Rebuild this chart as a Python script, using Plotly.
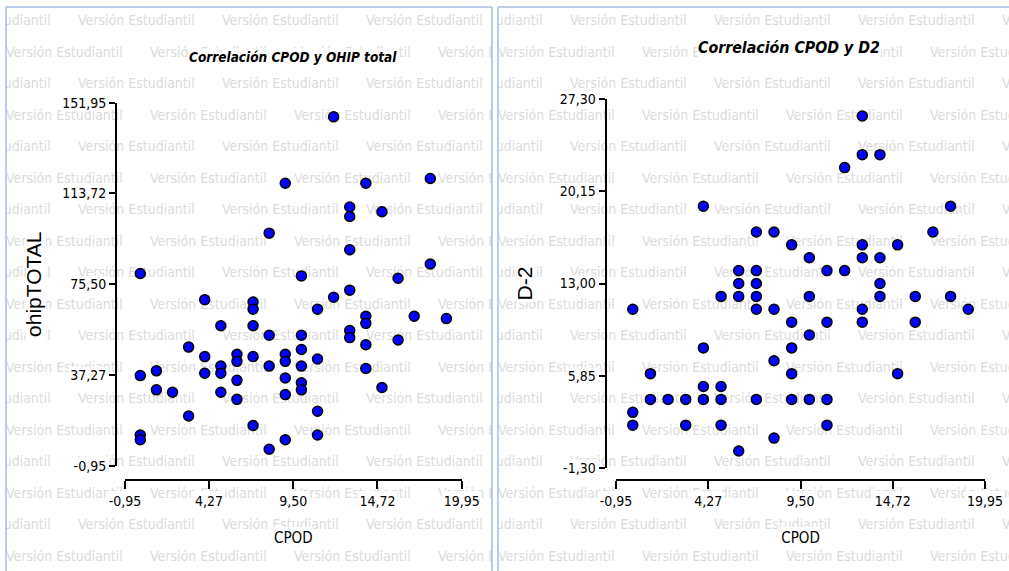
import plotly.graph_objects as go

# ---------------- data ----------------
cpod_left = [0, 0, 0, 0, 1, 1, 2, 3, 3, 4, 4, 4, 5, 5, 5, 5, 6, 6, 6, 6,
             7, 7, 7, 7, 7, 8, 8, 8, 8, 9, 9, 9, 9, 9, 9,
             10, 10, 10, 10, 10, 10, 11, 11, 11, 11, 12, 12,
             13, 13, 13, 13, 13, 13, 14, 14, 14, 14, 14, 15, 15, 16, 16, 17, 18, 18, 19]
ohip_total = [80, 37, 12, 10, 39, 31, 30, 49, 20, 69, 45, 38, 58, 41, 38, 30, 46, 43, 35, 27,
              68, 65, 58, 45, 16, 97, 54, 41, 6, 118, 46, 43, 36, 29, 10,
              79, 54, 48, 41, 34, 31, 65, 44, 22, 12, 146, 70,
              108, 104, 90, 73, 56, 53, 118, 62, 59, 50, 40, 106, 32, 78, 52, 62, 120, 84, 61]

cpod_right = [0, 0, 0, 1, 1, 2, 3, 3, 4, 4, 4, 4, 5, 5, 5, 5, 6, 6, 6, 6,
              7, 7, 7, 7, 7, 7, 8, 8, 8, 8, 9, 9, 9, 9, 9,
              10, 10, 10, 10, 11, 11, 11, 11, 12, 12,
              13, 13, 13, 13, 13, 13, 14, 14, 14, 14, 15, 15, 16, 16, 17, 18, 18, 19]
d2_values = [11, 3, 2, 6, 4, 4, 4, 2, 19, 8, 5, 4, 12, 5, 4, 2, 14, 13, 12, 0,
             17, 14, 13, 12, 11, 4, 17, 11, 7, 1, 16, 10, 8, 6, 4,
             15, 12, 9, 4, 14, 10, 4, 2, 22, 14,
             26, 23, 16, 15, 11, 10, 23, 15, 13, 12, 16, 6, 12, 10, 17, 19, 12, 11]

x_tickvals = [-0.95, 4.27, 9.50, 14.72, 19.95]
x_ticktext = ["-0,95", "4,27", "9,50", "14,72", "19,95"]
ohip_tickvals = [-0.95, 37.27, 75.50, 113.72, 151.95]
ohip_ticktext = ["-0,95", "37,27", "75,50", "113,72", "151,95"]
d2_tickvals = [-1.30, 5.85, 13.00, 20.15, 27.30]
d2_ticktext = ["-1,30", "5,85", "13,00", "20,15", "27,30"]

panel_titles = ["Correlación CPOD y OHIP total", "Correlación CPOD y D2"]
x_titles = ["CPOD", "CPOD"]
y_titles = ["ohipTOTAL", "D-2"]
watermark_text = "Versión Estudiantil"

# ---------------- styling / geometry ----------------
W, H = 1009, 571
COND = "DejaVu Sans Condensed, Liberation Sans Narrow, sans-serif"
SANS = "Liberation Sans, Arial, sans-serif"
WM_COLOR = "#dbdbdb"
BORDER = "#a6bae6"
TICK_FS = 14
XTITLE_FS = 15
YTITLE_FS = 21
WM_FS = 14

panels = [
    dict(left=6, right=492, xpx=(125, 461.7), ypx=(465.7, 102.7), yline=116, xline=480,
         yrange=(ohip_tickvals[0], ohip_tickvals[-1]), ytv=ohip_tickvals, ytt=ohip_ticktext,
         title_xy=(292.5, 57.5), head_fs=13.5, ytitle_x=36, ystand=14),
    dict(left=498, right=1060, xpx=(616, 985), ypx=(467.7, 99.3), yline=605.5, xline=480,
         yrange=(d2_tickvals[0], d2_tickvals[-1]), ytv=d2_tickvals, ytt=d2_ticktext,
         title_xy=(789, 47), head_fs=15.8, ytitle_x=527, ystand=20),
]
XTICKLEN, YTICKLEN = 8, 6


def text_w(s, size):
    w = 0.0
    for ch in s:
        if ch.isdigit():
            w += 0.572
        elif ch == ",":
            w += 0.286
        elif ch == "-":
            w += 0.325
        else:
            w += 0.6
    return w * size


fig = go.Figure()

# ---- watermark subplots (x/y for left panel, x2/y2 for right panel) ----
for i, p in enumerate(panels):
    ax = "" if i == 0 else "2"
    xs, ys = [], []
    for k in range(18):
        yy = 21.5 + 31.5 * k
        x = p["left"] + (72 if k % 2 == 0 else 0) - 144
        while x < min(p["right"], W):
            xs.append(x)
            ys.append(yy)
            x += 144
    fig.add_trace(go.Scatter(
        x=xs, y=ys, mode="text", text=[watermark_text] * len(xs),
        textposition="middle right", cliponaxis=True, hoverinfo="skip", showlegend=False,
        textfont=dict(family=COND, size=WM_FS, color=WM_COLOR),
        xaxis="x" + ax, yaxis="y" + ax))

    # white boxes behind tick labels and axis titles (labels sit on white in the reference)
    bx, by = [], []

    def rect(x0, x1, y0, y1):
        bx.extend([x0, x1, x1, x0, x0, None])
        by.extend([y0, y0, y1, y1, y0, None])

    (xa0, xa1), (yb, yt) = p["xpx"], p["ypx"]
    r0, r1 = p["yrange"]
    for v, t in zip(p["ytv"], p["ytt"]):
        ypix = yb + (v - r0) / (r1 - r0) * (yt - yb)
        right = p["yline"] - YTICKLEN - 2
        rect(right - text_w(t, TICK_FS) - 3, right + 1, ypix - 8, ypix + 8)
    for v, t in zip(x_tickvals, x_ticktext):
        xpix = xa0 + (v - x_tickvals[0]) / (x_tickvals[-1] - x_tickvals[0]) * (xa1 - xa0)
        hw = text_w(t, TICK_FS) / 2 + 2
        rect(xpix - hw, xpix + hw, p["xline"] + XTICKLEN + 3, p["xline"] + XTICKLEN + 20)
    cx = (xa0 + xa1) / 2
    hw = text_w(x_titles[i], XTITLE_FS) / 2 + 2
    rect(cx - hw, cx + hw, 527, 547)
    cy = (yb + yt) / 2
    hl = len(y_titles[i]) * 6.2
    rect(p["ytitle_x"] - 10, p["ytitle_x"] + 10, cy - hl, cy + hl)
    fig.add_trace(go.Scatter(
        x=bx, y=by, mode="lines", fill="toself", fillcolor="white",
        line=dict(width=0, color="white"), hoverinfo="skip", showlegend=False,
        xaxis="x" + ax, yaxis="y" + ax))

# ---- data scatter ----
series = [(cpod_left, ohip_total), (cpod_right, d2_values)]
for i, (xv, yv) in enumerate(series):
    n = str(i + 3)
    fig.add_trace(go.Scatter(
        x=xv, y=yv, mode="markers", cliponaxis=False, showlegend=False,
        marker=dict(size=10, color="#0000ff", line=dict(color="black", width=1.5)),
        xaxis="x" + n, yaxis="y" + n))

layout = dict(
    template="none",
    width=W, height=H, autosize=False,
    margin=dict(l=0, r=0, t=0, b=0, pad=0, autoexpand=False),
    paper_bgcolor="white", plot_bgcolor="rgba(0,0,0,0)", showlegend=False,
    font=dict(family=COND, color="black"),
)

for i, p in enumerate(panels):
    ax = "" if i == 0 else "2"
    xr = min(p["right"], W)
    layout["xaxis" + ax] = dict(domain=[p["left"] / W, xr / W],
                                range=[p["left"], xr], visible=False,
                                fixedrange=True, anchor="y" + ax, automargin=False)
    layout["yaxis" + ax] = dict(domain=[0, 1 - 7 / H], range=[H, 7], visible=False,
                                fixedrange=True, anchor="x" + ax, automargin=False)

    n = str(i + 3)
    (xa0, xa1), (yb, yt) = p["xpx"], p["ypx"]
    common = dict(showline=True, linecolor="black", linewidth=2, ticks="outside",
                  tickcolor="black", tickwidth=1.5, showgrid=False, zeroline=False,
                  anchor="free", fixedrange=True, automargin=False, mirror=False,
                  tickfont=dict(family=COND, size=TICK_FS, color="black"))
    layout["xaxis" + n] = dict(
        common, domain=[xa0 / W, xa1 / W], range=[x_tickvals[0], x_tickvals[-1]],
        position=1 - p["xline"] / H, ticklen=XTICKLEN,
        tickmode="array", tickvals=x_tickvals, ticktext=x_ticktext,
        title=dict(text=x_titles[i], standoff=24,
                   font=dict(family=COND, size=XTITLE_FS, color="black")))
    layout["yaxis" + n] = dict(
        common, domain=[1 - yb / H, 1 - yt / H], range=list(p["yrange"]),
        position=p["yline"] / W, ticklen=YTICKLEN,
        tickmode="array", tickvals=p["ytv"], ticktext=p["ytt"],
        title=dict(text=y_titles[i], standoff=p["ystand"],
                   font=dict(family=SANS, size=YTITLE_FS, color="black")))

annotations = []
for i, p in enumerate(panels):
    tx, ty = p["title_xy"]
    annotations.append(dict(
        text="<b><i>%s</i></b>" % panel_titles[i], x=tx / W, y=1 - ty / H,
        xref="paper", yref="paper", xanchor="center", yanchor="middle", showarrow=False,
        bgcolor="white", borderpad=0,
        font=dict(family=COND, size=p["head_fs"], color="black")))
layout["annotations"] = annotations

# panel frames: left, top and right edges (bottom edge lies below the page)
shapes = []
for p in panels:
    x0, x1, ytop = p["left"] / W, p["right"] / W, 1 - 7 / H
    for (a, b, c, d) in [(x0, -0.05, x0, ytop), (x0, ytop, x1, ytop), (x1, -0.05, x1, ytop)]:
        shapes.append(dict(type="line", xref="paper", yref="paper", x0=a, y0=b, x1=c, y1=d,
                           line=dict(color=BORDER, width=1.5), layer="above"))
layout["shapes"] = shapes

fig.update_layout(**layout)
fig.write_html("out.html")
